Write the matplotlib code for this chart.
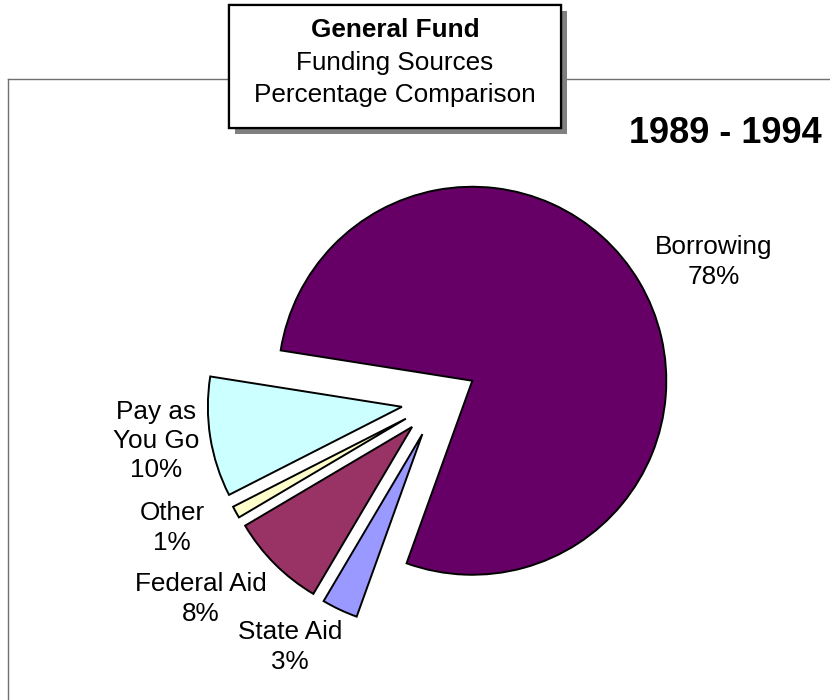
import matplotlib

matplotlib.use("Agg")
import matplotlib.pyplot as plt
import matplotlib.patheffects as pe
from matplotlib.patches import Rectangle
from matplotlib.lines import Line2D

plt.rcParams["font.family"] = ["Liberation Sans", "DejaVu Sans"]

SOURCES = ["Borrowing", "Pay as\nYou Go", "Other", "Federal Aid", "State Aid"]
PERCENTS = [78, 10, 1, 8, 3]
COLORS = ["#660066", "#CCFFFF", "#FFFFCC", "#993366", "#9999FF"]
EXPLODE = [0.206, 0.188, 0.188, 0.188, 0.188]
TITLE_LINES = ["General Fund", "Funding Sources", "Percentage Comparison"]
PERIOD = "1989 - 1994"

W, H = 830, 700
# label block centres in pixels (x from left, y from top)
LABEL_POS = [(714, 262), (156, 441), (172, 528), (201, 599), (290, 647)]


def fx(x):
    return x / W


def fy(y):
    return 1 - y / H


def main():
    fig = plt.figure(figsize=(W / 100, H / 100), dpi=100)
    ax = fig.add_axes([0, 0, 1, 1])
    ax.set_axis_off()

    # pie centre and radius in pixels
    cx, cy, R = 437.9, 401.1, 194.0

    ax.pie(PERCENTS, colors=COLORS, explode=EXPLODE, startangle=250.2,
           counterclock=True, radius=1.0,
           wedgeprops=dict(edgecolor="black", linewidth=1.4))
    ax.set_xlim(-cx / R, (W - cx) / R)
    ax.set_ylim(-(H - cy) / R, cy / R)
    ax.set_aspect("auto")

    for name, pct, (x, y) in zip(SOURCES, PERCENTS, LABEL_POS):
        fig.text(fx(x), fy(y), f"{name}\n{pct}%", ha="center", va="center",
                 multialignment="center", fontsize=18.8, linespacing=1.28)

    # outer frame (top and left only visible)
    frame_kw = dict(color="#707070", linewidth=1.0, transform=fig.transFigure)
    fig.add_artist(Line2D([fx(8), fx(8)], [fy(79), fy(700)], **frame_kw))
    fig.add_artist(Line2D([fx(8), fx(830)], [fy(79), fy(79)], **frame_kw))

    # title box with shadow
    box = Rectangle((fx(229), fy(128)), fx(561) - fx(229), fy(5) - fy(128),
                    transform=fig.transFigure, facecolor="white",
                    edgecolor="black", linewidth=1.6, zorder=5)
    box.set_path_effects([pe.withSimplePatchShadow(offset=(4.5, -4.5),
                                                   shadow_rgbFace="#808080",
                                                   alpha=1.0),
                          pe.Normal()])
    fig.add_artist(box)

    baselines = [37, 70, 102]
    for i, (line, yb) in enumerate(zip(TITLE_LINES, baselines)):
        fig.text(fx(395), fy(yb), line, ha="center", va="baseline",
                 fontsize=18.8, fontweight="bold" if i == 0 else "normal",
                 zorder=6)

    fig.text(fx(822), fy(143), PERIOD, ha="right", va="baseline",
             fontsize=26, fontweight="bold")

    fig.savefig("out.png", dpi=100)


if __name__ == "__main__":
    main()
